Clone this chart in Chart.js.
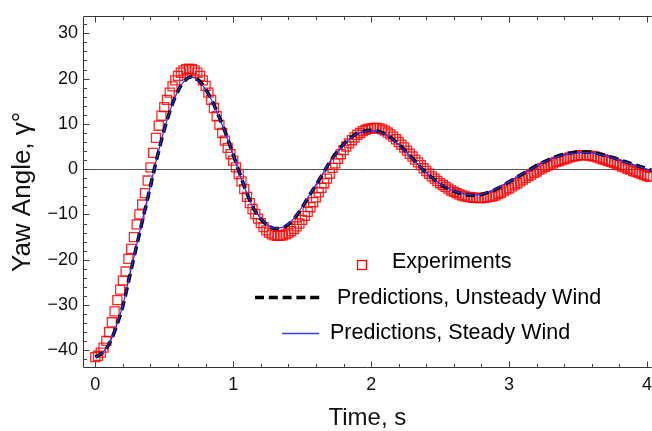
<!DOCTYPE html>
<html>
<head>
<meta charset="utf-8">
<script src="https://cdn.jsdelivr.net/npm/chart.js@4.4.1/dist/chart.umd.min.js"></script>
<style>
html,body{margin:0;padding:0;background:#fff;}
#wrap{width:652px;height:431px;position:relative;}
</style>
</head>
<body>
<div id="wrap"><canvas id="c" width="652" height="431"></canvas></div>
<script>
// ---- data ----
const expTime = [
0,0.02,0.04,0.06,0.08,0.1,0.12,0.14,0.16,0.18,
0.2,0.22,0.24,0.26,0.28,0.3,0.32,0.34,0.36,0.38,
0.4,0.42,0.44,0.46,0.48,0.5,0.52,0.54,0.56,0.58,
0.6,0.62,0.64,0.66,0.68,0.7,0.72,0.74,0.76,0.78,
0.8,0.82,0.84,0.86,0.88,0.9,0.92,0.94,0.96,0.98,
1,1.02,1.04,1.06,1.08,1.1,1.12,1.14,1.16,1.18,
1.2,1.22,1.24,1.26,1.28,1.3,1.32,1.34,1.36,1.38,
1.4,1.42,1.44,1.46,1.48,1.5,1.52,1.54,1.56,1.58,
1.6,1.62,1.64,1.66,1.68,1.7,1.72,1.74,1.76,1.78,
1.8,1.82,1.84,1.86,1.88,1.9,1.92,1.94,1.96,1.98,
2,2.02,2.04,2.06,2.08,2.1,2.12,2.14,2.16,2.18,
2.2,2.22,2.24,2.26,2.28,2.3,2.32,2.34,2.36,2.38,
2.4,2.42,2.44,2.46,2.48,2.5,2.52,2.54,2.56,2.58,
2.6,2.62,2.64,2.66,2.68,2.7,2.72,2.74,2.76,2.78,
2.8,2.82,2.84,2.86,2.88,2.9,2.92,2.94,2.96,2.98,
3,3.02,3.04,3.06,3.08,3.1,3.12,3.14,3.16,3.18,
3.2,3.22,3.24,3.26,3.28,3.3,3.32,3.34,3.36,3.38,
3.4,3.42,3.44,3.46,3.48,3.5,3.52,3.54,3.56,3.58,
3.6,3.62,3.64,3.66,3.68,3.7,3.72,3.74,3.76,3.78,
3.8,3.82,3.84,3.86,3.88,3.9,3.92,3.94,3.96,3.98,
4,4.02
];
const expYaw = [
-41.5,-41.2,-40.5,-39.4,-37.9,-36.0,-33.8,-31.4,-28.9,-26.6,
-24.6,-22.6,-19.8,-17.6,-15.0,-12.2,-10.0,-7.8,-5.3,-2.5,
0.4,3.6,6.9,9.6,11.8,13.7,15.3,16.9,18.3,19.6,
20.6,21.3,21.8,22.1,22.2,22.1,21.8,21.3,20.6,19.6,
18.4,16.9,15.3,13.5,11.7,9.8,8.0,6.3,4.7,3.3,
1.9,0.4,-1.1,-2.7,-4.4,-6.1,-7.5,-8.8,-9.9,-10.9,
-11.9,-12.8,-13.5,-14.0,-14.4,-14.6,-14.7,-14.7,-14.6,-14.4,
-14.1,-13.7,-13.2,-12.6,-12.0,-11.2,-10.3,-9.4,-8.4,-7.3,
-6.2,-5.1,-4.1,-3.1,-2.1,-1.0,0.3,1.3,2.3,3.3,
4.2,5.0,5.7,6.4,7.0,7.6,8.0,8.4,8.7,8.9,
9.0,9.1,9.1,9.0,8.8,8.5,8.1,7.7,7.2,6.6,
6.0,5.4,4.8,4.1,3.4,2.8,2.1,1.5,0.9,0.2,
-0.4,-1.0,-1.6,-2.1,-2.6,-3.1,-3.5,-3.9,-4.3,-4.7,
-5.0,-5.3,-5.6,-5.8,-6.0,-6.1,-6.2,-6.3,-6.3,-6.4,
-6.4,-6.3,-6.2,-6.1,-6.0,-5.8,-5.5,-5.2,-4.9,-4.5,
-4.2,-3.8,-3.4,-3.1,-2.7,-2.3,-1.9,-1.5,-1.2,-0.8,
-0.5,-0.1,0.2,0.5,0.8,1.0,1.3,1.6,1.8,2.0,
2.2,2.4,2.6,2.8,2.9,3.0,3.1,3.1,3.1,3.0,
2.9,2.8,2.6,2.4,2.2,2.0,1.8,1.6,1.4,1.1,
0.9,0.6,0.4,0.1,-0.1,-0.4,-0.6,-0.8,-1.1,-1.3,
-1.5,-1.7
];
const predTime = [
0,0.05,0.1,0.15,0.2,0.25,0.3,0.35,0.4,0.45,
0.5,0.55,0.6,0.65,0.7,0.75,0.8,0.85,0.9,0.95,
1,1.05,1.1,1.15,1.2,1.25,1.3,1.35,1.4,1.45,
1.5,1.55,1.6,1.65,1.7,1.75,1.8,1.85,1.9,1.95,
2,2.05,2.1,2.15,2.2,2.25,2.3,2.35,2.4,2.45,
2.5,2.55,2.6,2.65,2.7,2.75,2.8,2.85,2.9,2.95,
3,3.05,3.1,3.15,3.2,3.25,3.3,3.35,3.4,3.45,
3.5,3.55,3.6,3.65,3.7,3.75,3.8,3.85,3.9,3.95,
4,4.05
];
const predUnsteady = [
-41.5,-40.6,-38.6,-35.0,-30.2,-23.6,-16.9,-10.3,-3.7,2.8,
8.7,13.6,17.3,19.6,20.4,19.6,17.7,14.9,11.4,7.5,
3.2,-1.2,-5.4,-8.8,-11.0,-12.4,-13.1,-13.0,-12.2,-10.6,
-8.4,-5.9,-3.5,-1.0,1.6,3.7,5.5,6.9,7.9,8.4,
8.6,8.4,7.8,6.8,5.5,4.0,2.4,0.7,-0.8,-2.1,
-3.3,-4.2,-4.9,-5.4,-5.7,-5.8,-5.6,-5.1,-4.5,-3.7,
-2.8,-1.9,-1.0,-0.1,0.8,1.6,2.3,2.9,3.3,3.6,
3.8,3.8,3.7,3.4,3.0,2.6,2.1,1.6,1.1,0.6,
0.1,-0.4
];
const predSteady = [
-41.5,-40.6,-38.5,-34.9,-30.0,-23.4,-16.7,-10.1,-3.6,2.9,
8.8,13.6,17.3,19.6,20.3,19.5,17.6,14.8,11.3,7.4,
3.1,-1.3,-5.4,-8.8,-10.9,-12.3,-13.0,-12.9,-12.1,-10.5,
-8.3,-5.8,-3.4,-0.9,1.6,3.6,5.4,6.8,7.8,8.3,
8.5,8.3,7.7,6.7,5.4,3.9,2.3,0.7,-0.8,-2.1,
-3.2,-4.1,-4.8,-5.3,-5.6,-5.7,-5.5,-5.0,-4.4,-3.6,
-2.8,-1.9,-1.0,-0.2,0.7,1.5,2.2,2.8,3.2,3.5,
3.6,3.7,3.6,3.3,2.9,2.5,2.0,1.5,1.0,0.5,
0.0,-0.5
];
const xMajorTicks = [0,1,2,3,4];
const xMinorTicks = [0.2,0.4,0.6,0.8,1.2,1.4,1.6,1.8,2.2,2.4,2.6,2.8,3.2,3.4,3.6,3.8];
const yMajorTicks = [-40,-30,-20,-10,0,10,20,30];
const yMinorTicks = [-42,-38,-36,-34,-32,-28,-26,-24,-22,-18,-16,-14,-12,-8,-6,-4,-2,2,4,6,8,12,14,16,18,22,24,26,28,32];
const seriesNames = ['Experiments','Predictions, Unsteady Wind','Predictions, Steady Wind'];
const xTitleText = 'Time, s';
const yTitleText = 'Yaw Angle, \u03B3\u00B0';

const FONT = "'Liberation Sans', Arial, sans-serif";
const toPts = (xs, ys) => xs.map((x, i) => ({x: x, y: ys[i]}));

const framePlugin = {
  id: 'frame',
  beforeDatasetsDraw(chart) {
    const {ctx, chartArea: a, scales: {y}} = chart;
    const y0 = Math.round(y.getPixelForValue(0)) + 0.5;
    ctx.save();
    ctx.strokeStyle = '#555';
    ctx.lineWidth = 1;
    ctx.beginPath(); ctx.moveTo(a.left, y0); ctx.lineTo(a.right, y0); ctx.stroke();
    ctx.restore();
  },
  afterDatasetsDraw(chart) {
    const {ctx, chartArea: a, scales: {x, y}} = chart;
    ctx.save();
    const L = Math.round(a.left) + 0.5, T = Math.round(a.top) + 0.5, B = Math.round(a.bottom) - 0.5;
    ctx.strokeStyle = '#333';
    ctx.lineWidth = 1;
    ctx.beginPath();
    ctx.moveTo(a.right, T); ctx.lineTo(L, T); ctx.lineTo(L, B); ctx.lineTo(a.right, B);
    ctx.stroke();
    ctx.strokeStyle = '#444';
    const xt = (v, len) => {
      const px = Math.round(x.getPixelForValue(v)) + 0.5;
      ctx.beginPath(); ctx.moveTo(px, B); ctx.lineTo(px, B - len); ctx.stroke();
      ctx.beginPath(); ctx.moveTo(px, T); ctx.lineTo(px, T + len); ctx.stroke();
    };
    const yt = (v, len) => {
      const py = Math.round(y.getPixelForValue(v)) + 0.5;
      ctx.beginPath(); ctx.moveTo(L, py); ctx.lineTo(L + len, py); ctx.stroke();
    };
    xMajorTicks.forEach(v => xt(v, 6));
    xMinorTicks.forEach(v => xt(v, 3.5));
    yMajorTicks.forEach(v => yt(v, 6));
    yMinorTicks.forEach(v => yt(v, 3.5));

    // legend
    ctx.font = '21.5px ' + FONT;
    ctx.fillStyle = '#000';
    ctx.textBaseline = 'alphabetic';
    ctx.textAlign = 'left';
    ctx.strokeStyle = '#ff0000';
    ctx.lineWidth = 1.3;
    ctx.strokeRect(357.5, 260.5, 9, 9);
    ctx.fillText(seriesNames[0], 392, 268);
    ctx.strokeStyle = '#000';
    ctx.lineWidth = 3.4;
    ctx.setLineDash([9, 4.8]);
    ctx.beginPath(); ctx.moveTo(255, 297.5); ctx.lineTo(320, 297.5); ctx.stroke();
    ctx.setLineDash([]);
    ctx.fillText(seriesNames[1], 337, 303.5);
    ctx.strokeStyle = '#3a3aff';
    ctx.lineWidth = 1.3;
    ctx.beginPath(); ctx.moveTo(282, 333.5); ctx.lineTo(319, 333.5); ctx.stroke();
    ctx.fillText(seriesNames[2], 330, 339);
    ctx.restore();
  }
};

new Chart(document.getElementById('c'), {
  type: 'scatter',
  data: {
    datasets: [
      {
        label: seriesNames[2],
        data: toPts(predTime, predSteady),
        showLine: true,
        borderColor: '#2a2aff',
        borderWidth: 1.2,
        pointRadius: 0,
        cubicInterpolationMode: 'monotone',
        order: 1
      },
      {
        label: seriesNames[1],
        data: toPts(predTime, predUnsteady),
        showLine: true,
        borderColor: '#000000',
        borderWidth: 3.5,
        borderDash: [9, 5],
        pointRadius: 0,
        cubicInterpolationMode: 'monotone',
        order: 2
      },
      {
        label: seriesNames[0],
        data: toPts(expTime, expYaw),
        showLine: false,
        pointStyle: 'rect',
        pointRadius: 6.4,
        borderColor: 'rgba(255,0,0,0.85)',
        backgroundColor: 'rgba(0,0,0,0)',
        borderWidth: 1.3,
        order: 3
      }
    ]
  },
  options: {
    responsive: false,
    animation: false,
    devicePixelRatio: 1,
    layout: {autoPadding: false, padding: {top: 13, right: 0, left: 0, bottom: 0}},
    plugins: {legend: {display: false}, tooltip: {enabled: false}},
    scales: {
      x: {
        type: 'linear',
        min: -0.089,
        max: 4.034,
        afterBuildTicks: s => { s.ticks = xMajorTicks.map(v => ({value: v})); },
        afterFit: s => { s.height = 63; },
        grid: {display: false, drawTicks: true, tickLength: 6},
        border: {display: false},
        ticks: {
          autoSkip: false, maxRotation: 0, padding: 0,
          color: '#111', font: {family: FONT, size: 18},
          callback: v => String(v)
        },
        title: {
          display: true, text: xTitleText, color: '#111',
          font: {family: FONT, size: 24, lineHeight: 1},
          padding: {top: 0, bottom: 1}
        }
      },
      y: {
        type: 'linear',
        min: -43.9,
        max: 33.87,
        afterBuildTicks: s => { s.ticks = yMajorTicks.map(v => ({value: v})); },
        afterFit: s => { s.width = 83; },
        grid: {display: false, drawTicks: false},
        border: {display: false},
        ticks: {
          autoSkip: false, padding: 5,
          color: '#111', font: {family: FONT, size: 18},
          callback: v => (v < 0 ? '\u2212' + Math.abs(v) : String(v))
        },
        title: {
          display: true, text: yTitleText, color: '#111',
          font: {family: FONT, size: 26, lineHeight: 1},
          padding: {top: 10, bottom: 0}
        }
      }
    }
  },
  plugins: [framePlugin]
});
</script>
</body>
</html>
